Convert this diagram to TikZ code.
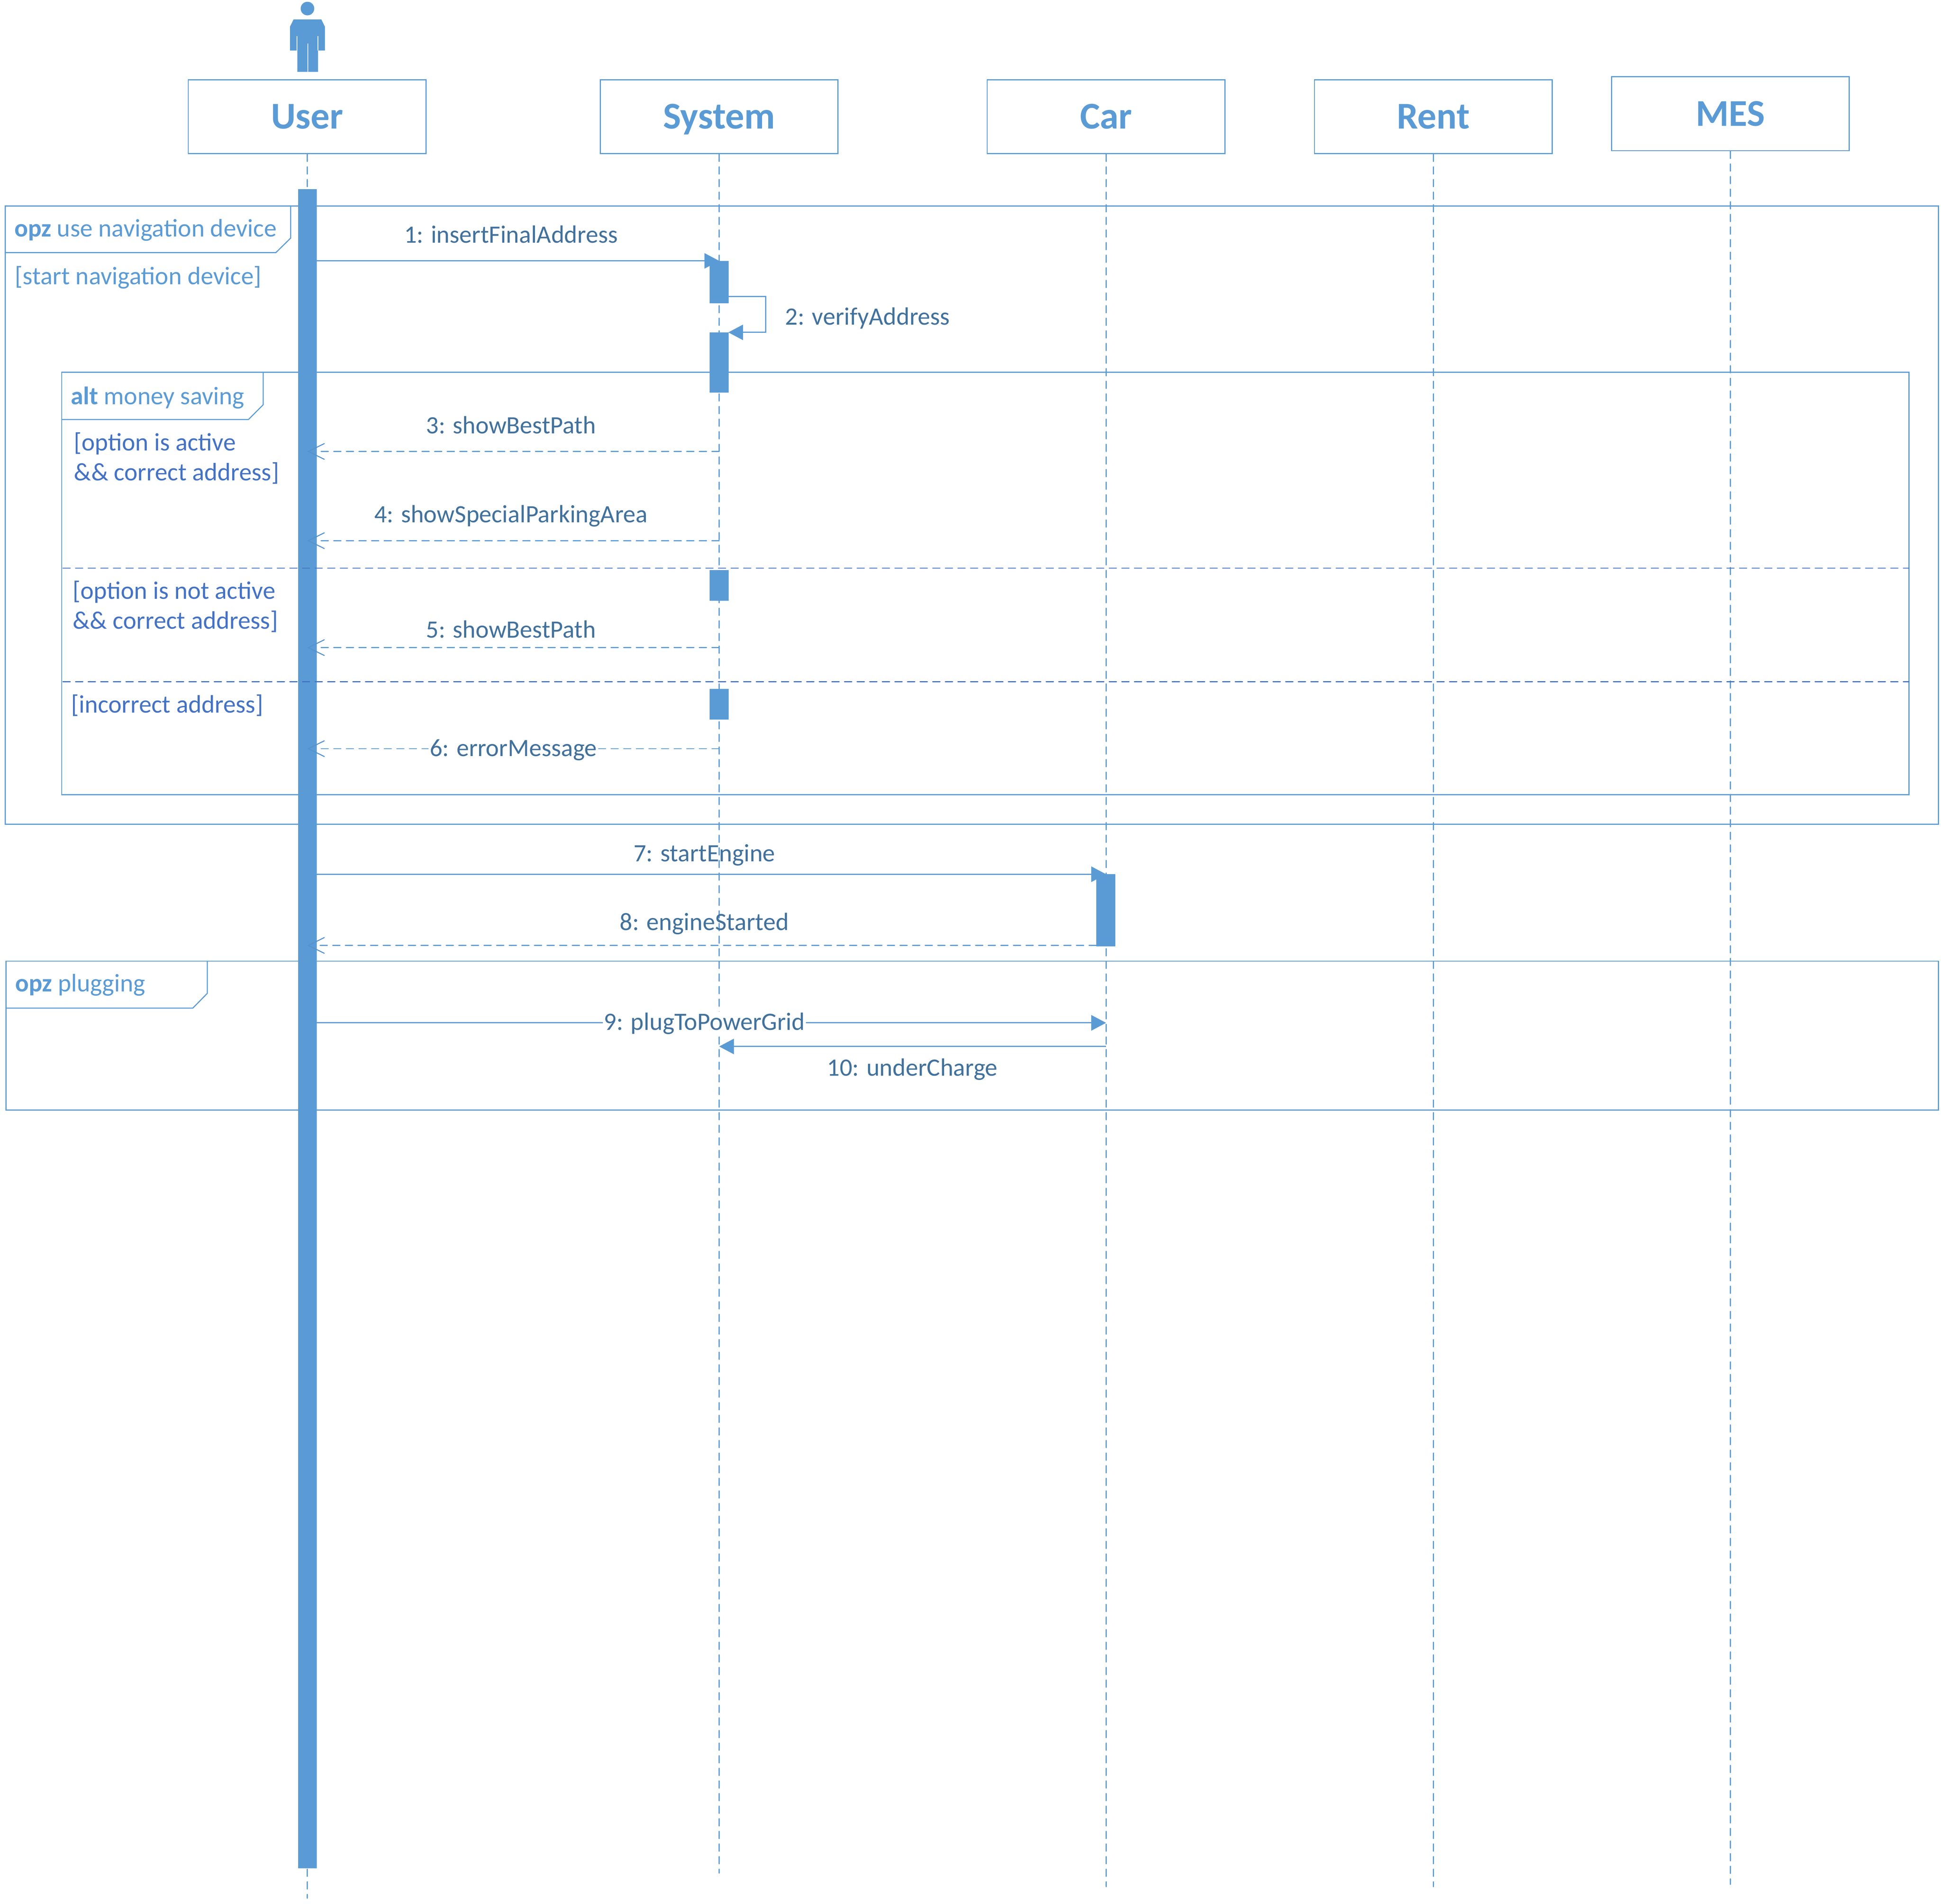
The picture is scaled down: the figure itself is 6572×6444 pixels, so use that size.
\documentclass[tikz,border=0pt]{standalone}
\usepackage{fontspec}
\setmainfont{Carlito}
\usetikzlibrary{arrows.meta}
\definecolor{mainblue}{HTML}{5B9BD5}
\definecolor{barbblue}{HTML}{5592CC}
\definecolor{labelblue}{HTML}{41719C}
\definecolor{guardblue}{HTML}{4472C4}
\tikzset{
  actorbox/.style={draw=mainblue,line width=.95pt,fill=white,minimum width=201.25pt,minimum height=62.5pt,inner sep=0pt,
    text=mainblue,text height=20.5pt,text depth=0pt,font=\fontsize{32}{36}\selectfont\bfseries},
  lifeline/.style={draw=mainblue,line width=.85pt,line cap=round,dash pattern=on 6.2pt off 4.47pt},
  activation/.style={draw=mainblue,fill=mainblue,line width=.5pt,minimum width=15.5pt,inner sep=0pt},
  framebox/.style={draw=mainblue,line width=.9pt},
  framelabel/.style={text=mainblue,inner sep=0pt,anchor=base west,font=\fontsize{21.4}{24}\selectfont},
  guard/.style={text=guardblue,inner sep=0pt,anchor=base west,font=\fontsize{21.3}{24}\selectfont},
  msglabel/.style={text=labelblue,inner sep=0pt,anchor=base,font=\fontsize{21.1}{24}\selectfont},
  msglabelbg/.style={msglabel,fill=white,inner xsep=1pt,inner ysep=1pt},
  syncmsg/.style={draw=mainblue,line width=1pt,-{Triangle[length=12.5pt,width=13pt]}},
  retmsg/.style={draw=mainblue,line width=.85pt,line cap=round,dash pattern=on 6.2pt off 4.47pt,-{Straight Barb[length=13.75pt,width=13.5pt,line width=.85pt,color=barbblue]}},
  separator/.style={draw=guardblue,line width=.9pt,line cap=round,dash pattern=on 6.2pt off 4.47pt},
}
\begin{document}
\begin{tikzpicture}[x=0.25pt,y=-0.25pt]
\useasboundingbox (0,0) rectangle (6572,6444);

% lifelines
\node[actorbox] (user) at (1040,395) {User};
\node[actorbox] (system) at (2435,395) {System};
\node[actorbox] (car) at (3745,395) {Car};
\node[actorbox] (rent) at (4853,395) {Rent};
\node[actorbox] (mes) at (5859,385) {MES};
\coordinate (userend) at (1040,6425);
\coordinate (systemend) at (2435,6340);
\coordinate (carend) at (3745,6386);
\coordinate (rentend) at (4853,6386);
\coordinate (mesend) at (5859,6378);
\draw[lifeline] (user.south) -- (userend);
\draw[lifeline] (system.south) -- (systemend);
\draw[lifeline] (car.south) -- (carend);
\draw[lifeline] (rent.south) -- (rentend);
\draw[lifeline] (mes.south) -- (mesend);

% actor figure
\fill[mainblue] (1041,29) ellipse (23 and 23);
\fill[mainblue] (994,66) -- (1088,66) -- (1100,90) -- (1100,171) -- (1077,171) -- (1077,243) -- (1007,243) -- (1007,171) -- (982,171) -- (982,90) -- cycle;
\draw[white,line width=.7pt] (1005,122) -- (1005,171) (1077,122) -- (1077,171) (1042,147) -- (1042,243);

% outer frames
\draw[framebox] (18,697) rectangle (6563,2790);
\draw[framebox] (18,855) -- (934,855) -- (984,806) -- (984,697);
\node[framelabel] (opzone) at (48,801) {\textbf{opz} use navigation device};
\node[framelabel] (startguard) at (50,963) {[start navigation device]};

\draw[framebox] (209,1260) rectangle (6463,2690);
\draw[framebox] (209,1420) -- (841,1420) -- (891,1370) -- (891,1260);
\node[framelabel] (altlabel) at (239,1369) {\textbf{alt} money saving};
\node[guard] (guardone) at (250,1525) {[option is active};
\node[guard] (guardonebis) at (250,1627) {\&\& correct address]};
\node[guard] (guardtwo) at (246,2027) {[option is not active};
\node[guard] (guardtwobis) at (246,2129) {\&\& correct address]};
\node[guard] (guardthree) at (241,2413) {[incorrect address]};
\coordinate (sepa) at (213,1923);
\coordinate (sepb) at (6463,1923);
\coordinate (sepc) at (213,2307);
\coordinate (sepd) at (6463,2307);

\draw[framebox] (20,3253) rectangle (6563,3757);
\draw[framebox] (20,3412) -- (653,3412) -- (702,3362) -- (702,3253);
\node[framelabel] (opztwo) at (51,3356) {\textbf{opz} plugging};

% activations
\node[activation,minimum height=1420.5pt,anchor=north] (uact) at (1041,640) {};
\node[activation,minimum height=35.25pt,anchor=north] (sactone) at (2435,883) {};
\node[activation,minimum height=50.5pt,anchor=north] (sacttwo) at (2435,1125) {};
\node[activation,minimum height=25.75pt,anchor=north] (sactthree) at (2435,1929) {};
\node[activation,minimum height=25.5pt,anchor=north] (sactfour) at (2435,2332) {};
\node[activation,minimum height=60.5pt,anchor=north] (cact) at (3744,2959) {};

\draw[separator] (sepa) -- (sepb);
\draw[separator] (sepc) -- (sepd);

% message ends
\coordinate (ma) at (1040,883);   \coordinate (mb) at (2435,883);
\coordinate (la) at (2466,1004);  \coordinate (lb) at (2593,1004);
\coordinate (lc) at (2593,1125);  \coordinate (ld) at (2466,1125);
\coordinate (na) at (2435,1528);  \coordinate (nb) at (1040,1528);
\coordinate (oa) at (2435,1830);  \coordinate (ob) at (1040,1830);
\coordinate (pa) at (2435,2192);  \coordinate (pb) at (1040,2192);
\coordinate (qa) at (2435,2534);  \coordinate (qb) at (1040,2534);
\coordinate (ra) at (1040,2959);  \coordinate (rb) at (3745,2959);
\coordinate (sa) at (3712,3200);  \coordinate (sb) at (1040,3200);
\coordinate (ta) at (1040,3462);  \coordinate (tb) at (3745,3462);
\coordinate (ua) at (3745,3542);  \coordinate (ub) at (2435,3542);

\draw[syncmsg] (ma) -- (mb);
\draw[syncmsg] (la) -- (lb) -- (lc) -- (ld);
\draw[retmsg] (na) -- (nb);
\draw[retmsg] (oa) -- (ob);
\draw[retmsg] (pa) -- (pb);
\draw[retmsg] (qa) -- (qb);
\draw[syncmsg] (ra) -- (rb);
\draw[retmsg] (sa) -- (sb);
\draw[syncmsg] (ta) -- (tb);
\draw[syncmsg] (ua) -- (ub);

% message labels
\node[msglabel] (l1) at (1730,822) {1: insertFinalAddress};
\node[msglabel,anchor=base west] (l2) at (2658,1100) {2: verifyAddress};
\node[msglabel] (l3) at (1730,1467) {3: showBestPath};
\node[msglabel] (l4) at (1730,1769) {4: showSpecialParkingArea};
\node[msglabel] (l5) at (1730,2159) {5: showBestPath};
\node[msglabelbg] (l6) at (1738,2560) {6: errorMessage};
\node[msglabel] (l7) at (2385,2916) {7: startEngine};
\node[msglabel] (l8) at (2385,3148) {8: engineStarted};
\node[msglabelbg] (l9) at (2385,3486) {9: plugToPowerGrid};
\node[msglabel] (l10) at (3089,3641) {10: underCharge};
\end{tikzpicture}
\end{document}
